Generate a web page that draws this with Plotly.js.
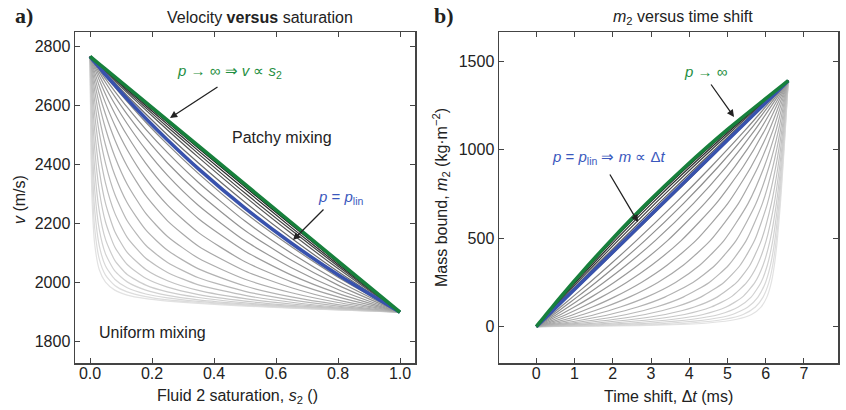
<!DOCTYPE html>
<html>
<head>
<meta charset="utf-8">
<script src="https://cdn.plot.ly/plotly-3.0.1.min.js"></script>
<style>html,body{margin:0;padding:0;background:#fff;}#chart{width:846px;height:410px;}</style>
</head>
<body>
<div id="chart"></div>
<script>
// ---------- Panel a) velocity versus saturation ----------
const saturation = [0, 0.003, 0.007, 0.015, 0.03, 0.05, 0.08, 0.12, 0.18, 0.25, 0.35, 0.5, 0.65, 0.8, 1];

const velocityGreen = [2767, 2764, 2761, 2754, 2741, 2724, 2698, 2663, 2611, 2550, 2463, 2333, 2203, 2073, 1900];
const velocityBlue  = [2767, 2763, 2758, 2748, 2730, 2705, 2670, 2623, 2557, 2484, 2386, 2253, 2134, 2027, 1900];

// grey family, from next to the green line (patchy) down to uniform mixing
const velocityGrey = [
  [2767, 2764, 2761, 2754, 2740, 2722, 2695, 2659, 2606, 2544, 2456, 2325, 2196, 2068, 1900],
  [2767, 2764, 2760, 2753, 2739, 2720, 2692, 2655, 2600, 2537, 2447, 2316, 2187, 2062, 1900],
  [2767, 2764, 2760, 2752, 2737, 2718, 2689, 2650, 2593, 2528, 2437, 2304, 2178, 2056, 1900],
  [2767, 2764, 2760, 2751, 2736, 2715, 2684, 2644, 2585, 2518, 2425, 2292, 2167, 2048, 1900],
  [2767, 2764, 2759, 2750, 2733, 2710, 2677, 2634, 2572, 2501, 2406, 2273, 2151, 2038, 1900],
  [2767, 2763, 2757, 2747, 2727, 2701, 2663, 2614, 2544, 2469, 2370, 2237, 2122, 2019, 1900],
  [2767, 2762, 2756, 2744, 2721, 2691, 2649, 2595, 2520, 2441, 2340, 2209, 2100, 2006, 1900],
  [2767, 2761, 2754, 2740, 2713, 2679, 2631, 2571, 2490, 2406, 2304, 2177, 2076, 1992, 1900],
  [2767, 2760, 2751, 2734, 2702, 2662, 2606, 2539, 2451, 2364, 2262, 2142, 2051, 1977, 1900],
  [2767, 2758, 2747, 2726, 2687, 2639, 2574, 2499, 2405, 2316, 2217, 2107, 2026, 1964, 1900],
  [2767, 2756, 2742, 2714, 2666, 2609, 2534, 2451, 2352, 2263, 2170, 2071, 2003, 1952, 1900],
  [2767, 2753, 2734, 2699, 2639, 2571, 2485, 2395, 2295, 2210, 2124, 2040, 1983, 1941, 1900],
  [2767, 2748, 2723, 2678, 2604, 2523, 2428, 2334, 2235, 2157, 2083, 2012, 1966, 1933, 1900],
  [2767, 2741, 2709, 2651, 2560, 2467, 2365, 2271, 2179, 2110, 2047, 1989, 1952, 1926, 1900],
  [2767, 2732, 2690, 2616, 2508, 2405, 2300, 2210, 2127, 2069, 2017, 1971, 1942, 1921, 1900],
  [2767, 2720, 2664, 2572, 2448, 2338, 2236, 2154, 2083, 2035, 1993, 1957, 1934, 1917, 1900],
  [2767, 2702, 2630, 2518, 2380, 2269, 2174, 2103, 2045, 2007, 1974, 1946, 1928, 1914, 1900],
  [2767, 2679, 2587, 2456, 2311, 2206, 2121, 2062, 2015, 1985, 1960, 1938, 1923, 1912, 1900],
  [2767, 2649, 2534, 2387, 2242, 2147, 2076, 2028, 1992, 1969, 1950, 1932, 1920, 1911, 1900],
  [2767, 2610, 2474, 2317, 2180, 2098, 2040, 2003, 1975, 1957, 1942, 1928, 1918, 1910, 1900],
  [2767, 2563, 2407, 2249, 2125, 2057, 2012, 1983, 1962, 1949, 1937, 1925, 1916, 1909, 1900],
  [2767, 2507, 2338, 2186, 2080, 2026, 1991, 1969, 1953, 1942, 1933, 1923, 1915, 1908, 1900],
  [2767, 2444, 2269, 2132, 2044, 2002, 1975, 1958, 1946, 1938, 1930, 1921, 1914, 1908, 1900]
];

// ---------- Panel b) m2 versus time shift ----------
const massBound = [0, 4, 10, 21, 42, 69, 111, 167, 250, 347, 486, 695, 903, 1111, 1389];

const shiftGreen = [0, 0.015, 0.036, 0.077, 0.155, 0.259, 0.418, 0.632, 0.961, 1.357, 1.946, 2.884, 3.895, 4.988, 6.59];
const shiftBlue  = [0, 0.020, 0.046, 0.099, 0.198, 0.330, 0.527, 0.791, 1.186, 1.648, 2.307, 3.295, 4.284, 5.272, 6.59];

const shiftGrey = [
  [0, 0.016, 0.037, 0.080, 0.161, 0.269, 0.433, 0.654, 0.993, 1.398, 1.998, 2.945, 3.955, 5.033, 6.59],
  [0, 0.017, 0.039, 0.084, 0.168, 0.281, 0.451, 0.681, 1.032, 1.449, 2.061, 3.019, 4.026, 5.086, 6.59],
  [0, 0.018, 0.041, 0.088, 0.177, 0.295, 0.474, 0.713, 1.077, 1.508, 2.135, 3.103, 4.106, 5.144, 6.59],
  [0, 0.019, 0.044, 0.093, 0.187, 0.311, 0.499, 0.750, 1.130, 1.575, 2.218, 3.196, 4.193, 5.207, 6.59],
  [0, 0.020, 0.048, 0.102, 0.204, 0.340, 0.543, 0.813, 1.217, 1.686, 2.353, 3.344, 4.328, 5.302, 6.59],
  [0, 0.024, 0.056, 0.121, 0.241, 0.399, 0.635, 0.943, 1.396, 1.909, 2.616, 3.623, 4.572, 5.468, 6.59],
  [0, 0.028, 0.065, 0.139, 0.276, 0.456, 0.720, 1.063, 1.557, 2.105, 2.839, 3.847, 4.759, 5.589, 6.59],
  [0, 0.033, 0.077, 0.164, 0.324, 0.533, 0.836, 1.222, 1.765, 2.351, 3.110, 4.107, 4.967, 5.719, 6.59],
  [0, 0.040, 0.094, 0.199, 0.392, 0.640, 0.994, 1.433, 2.033, 2.657, 3.432, 4.398, 5.189, 5.852, 6.59],
  [0, 0.051, 0.117, 0.248, 0.485, 0.783, 1.199, 1.701, 2.360, 3.014, 3.789, 4.701, 5.409, 5.978, 6.59],
  [0, 0.065, 0.151, 0.317, 0.612, 0.976, 1.466, 2.036, 2.748, 3.419, 4.171, 5.005, 5.618, 6.094, 6.59],
  [0, 0.085, 0.196, 0.410, 0.780, 1.223, 1.797, 2.430, 3.179, 3.844, 4.549, 5.285, 5.802, 6.192, 6.59],
  [0, 0.114, 0.261, 0.538, 1.005, 1.539, 2.197, 2.881, 3.640, 4.274, 4.907, 5.536, 5.960, 6.273, 6.59],
  [0, 0.154, 0.349, 0.708, 1.290, 1.921, 2.650, 3.361, 4.097, 4.675, 5.224, 5.745, 6.087, 6.337, 6.59],
  [0, 0.208, 0.467, 0.930, 1.639, 2.360, 3.137, 3.842, 4.523, 5.029, 5.489, 5.912, 6.186, 6.386, 6.59],
  [0, 0.284, 0.626, 1.213, 2.056, 2.847, 3.637, 4.302, 4.905, 5.331, 5.706, 6.044, 6.262, 6.423, 6.59],
  [0, 0.390, 0.843, 1.575, 2.543, 3.373, 4.133, 4.729, 5.239, 5.585, 5.882, 6.147, 6.321, 6.451, 6.59],
  [0, 0.530, 1.114, 1.996, 3.054, 3.878, 4.574, 5.085, 5.503, 5.778, 6.012, 6.222, 6.363, 6.471, 6.59],
  [0, 0.721, 1.464, 2.489, 3.589, 4.362, 4.966, 5.386, 5.717, 5.930, 6.112, 6.279, 6.394, 6.486, 6.59],
  [0, 0.965, 1.874, 3.006, 4.088, 4.777, 5.282, 5.618, 5.876, 6.042, 6.184, 6.319, 6.416, 6.496, 6.59],
  [0, 1.275, 2.345, 3.533, 4.540, 5.128, 5.535, 5.797, 5.995, 6.124, 6.237, 6.348, 6.432, 6.504, 6.59],
  [0, 1.648, 2.853, 4.033, 4.926, 5.409, 5.729, 5.930, 6.083, 6.183, 6.274, 6.369, 6.443, 6.509, 6.59],
  [0, 2.085, 3.375, 4.487, 5.245, 5.629, 5.876, 6.030, 6.147, 6.226, 6.302, 6.384, 6.451, 6.513, 6.59]
];

// ---------- tick labels ----------
const ticksSat = [0, 0.2, 0.4, 0.6, 0.8, 1.0];
const ticksSatText = ["0.0", "0.2", "0.4", "0.6", "0.8", "1.0"];
const ticksVel = [1800, 2000, 2200, 2400, 2600, 2800];
const ticksShift = [0, 1, 2, 3, 4, 5, 6, 7];
const ticksMass = [0, 500, 1000, 1500];

// ---------- styles ----------
const W = 846, H = 410;
const GREEN = '#17803c', BLUE = '#3852ad';
const GREEN_TXT = '#1f8f42', BLUE_TXT = '#3a58bd';
const FONT = 'Liberation Sans, Arial, Helvetica, sans-serif';

function greyColor(i, n) {
  const dark = [24, 44, 66, 88, 110];
  let lv;
  if (i < dark.length) lv = dark[i];
  else lv = Math.round(136 + (i - dark.length) * (226 - 136) / (n - dark.length - 1));
  return 'rgb(' + lv + ',' + lv + ',' + lv + ')';
}

const traces = [];
const n = velocityGrey.length;
for (let i = n - 1; i >= 0; i--) {
  const col = greyColor(i, n);
  traces.push({x: saturation, y: velocityGrey[i], xaxis: 'x', yaxis: 'y', mode: 'lines',
    line: {color: col, width: 1.2, shape: 'spline', smoothing: 0.6}, hoverinfo: 'skip'});
  traces.push({x: shiftGrey[i], y: massBound, xaxis: 'x2', yaxis: 'y2', mode: 'lines',
    line: {color: col, width: 1.2, shape: 'spline', smoothing: 0.6}, hoverinfo: 'skip'});
}
traces.push({x: saturation, y: velocityBlue, xaxis: 'x', yaxis: 'y', mode: 'lines',
  line: {color: BLUE, width: 3.6, shape: 'spline', smoothing: 0.6}, hoverinfo: 'skip'});
traces.push({x: shiftBlue, y: massBound, xaxis: 'x2', yaxis: 'y2', mode: 'lines',
  line: {color: BLUE, width: 3.6}, hoverinfo: 'skip'});
traces.push({x: saturation, y: velocityGreen, xaxis: 'x', yaxis: 'y', mode: 'lines',
  line: {color: GREEN, width: 3.6}, hoverinfo: 'skip'});
traces.push({x: shiftGreen, y: massBound, xaxis: 'x2', yaxis: 'y2', mode: 'lines',
  line: {color: GREEN, width: 3.6, shape: 'spline', smoothing: 0.6}, hoverinfo: 'skip'});

const axisCommon = {
  showline: true, linecolor: '#444', linewidth: 1.5, mirror: 'ticks',
  ticks: 'inside', ticklen: 5, tickwidth: 1, tickcolor: '#444',
  showgrid: false, zeroline: false, tickfont: {family: FONT, size: 16, color: '#222'},
  fixedrange: true
};

const yDom = [(H - 363) / H, (H - 32) / H];

function px(x) { return x / W; }
function py(y) { return 1 - y / H; }
function txt(x, y, text, opts) {
  return Object.assign({xref: 'paper', yref: 'paper', x: px(x), y: py(y), text: text,
    showarrow: false, xanchor: 'center', yanchor: 'middle',
    font: {family: FONT, size: 16, color: '#222'}}, opts || {});
}
function arrow(tipX, tipY, tailX, tailY) {
  return {xref: 'paper', yref: 'paper', x: px(tipX), y: py(tipY), ax: tailX - tipX, ay: tailY - tipY,
    text: '', showarrow: true, arrowhead: 2, arrowsize: 1.1, arrowwidth: 1.3, arrowcolor: '#222', standoff: 0};
}

const annotations = [
  txt(24, 15, '<b>a)</b>', {font: {family: 'Liberation Serif, DejaVu Serif, serif', size: 22, color: '#222'}}),
  txt(444, 15, '<b>b)</b>', {font: {family: 'Liberation Serif, DejaVu Serif, serif', size: 22, color: '#222'}}),
  txt(260, 17, 'Velocity <b>versus</b> saturation'),
  txt(683, 17, '<i>m</i><sub>2</sub> versus time shift'),
  txt(237, 396, 'Fluid 2 saturation, <i>s</i><sub>2</sub> ()'),
  txt(19, 200, '<i>v</i> (m/s)', {textangle: -90}),
  txt(668, 396, 'Time shift, Δ<i>t</i> (ms)'),
  txt(441, 198, 'Mass bound, <i>m</i><sub>2</sub> (kg·m<sup>−2</sup>)', {textangle: -90}),
  txt(229, 72, '<i>p</i> → ∞ ⇒ <i>v</i> ∝ <i>s</i><sub>2</sub>', {font: {family: FONT, size: 15, color: GREEN_TXT}}),
  txt(282, 137, 'Patchy mixing'),
  txt(340, 197, '<i>p</i> = <i>p</i><sub>lin</sub>', {font: {family: FONT, size: 15, color: BLUE_TXT}}),
  txt(152, 332, 'Uniform mixing'),
  txt(706, 72, '<i>p</i> → ∞', {font: {family: FONT, size: 15, color: GREEN_TXT}}),
  txt(609, 157, '<i>p</i> = <i>p</i><sub>lin</sub> ⇒ <i>m</i> ∝ Δ<i>t</i>', {font: {family: FONT, size: 15, color: BLUE_TXT}}),
  arrow(170, 118, 219, 86),
  arrow(293, 240, 325, 208),
  arrow(734, 117, 710, 83),
  arrow(638, 222, 609, 173)
];

const layout = {
  width: W, height: H, margin: {l: 0, r: 0, t: 0, b: 0},
  paper_bgcolor: '#fff', plot_bgcolor: '#fff', showlegend: false,
  font: {family: FONT, size: 16, color: '#222'},
  xaxis: Object.assign({}, axisCommon, {domain: [75 / W, 415 / W], range: [-0.0484, 1.0484], anchor: 'y',
    tickvals: ticksSat, ticktext: ticksSatText, ticklabelstandoff: -5}),
  yaxis: Object.assign({}, axisCommon, {domain: yDom, range: [1728, 2850], anchor: 'x', tickvals: ticksVel}),
  xaxis2: Object.assign({}, axisCommon, {domain: [499 / W, 838 / W], range: [-0.975, 7.89], anchor: 'y2',
    tickvals: ticksShift, ticklabelstandoff: -5}),
  yaxis2: Object.assign({}, axisCommon, {domain: yDom, range: [-205, 1664], anchor: 'x2', tickvals: ticksMass}),
  annotations: annotations
};

Plotly.newPlot('chart', traces, layout, {displayModeBar: false, staticPlot: true});
</script>
</body>
</html>
